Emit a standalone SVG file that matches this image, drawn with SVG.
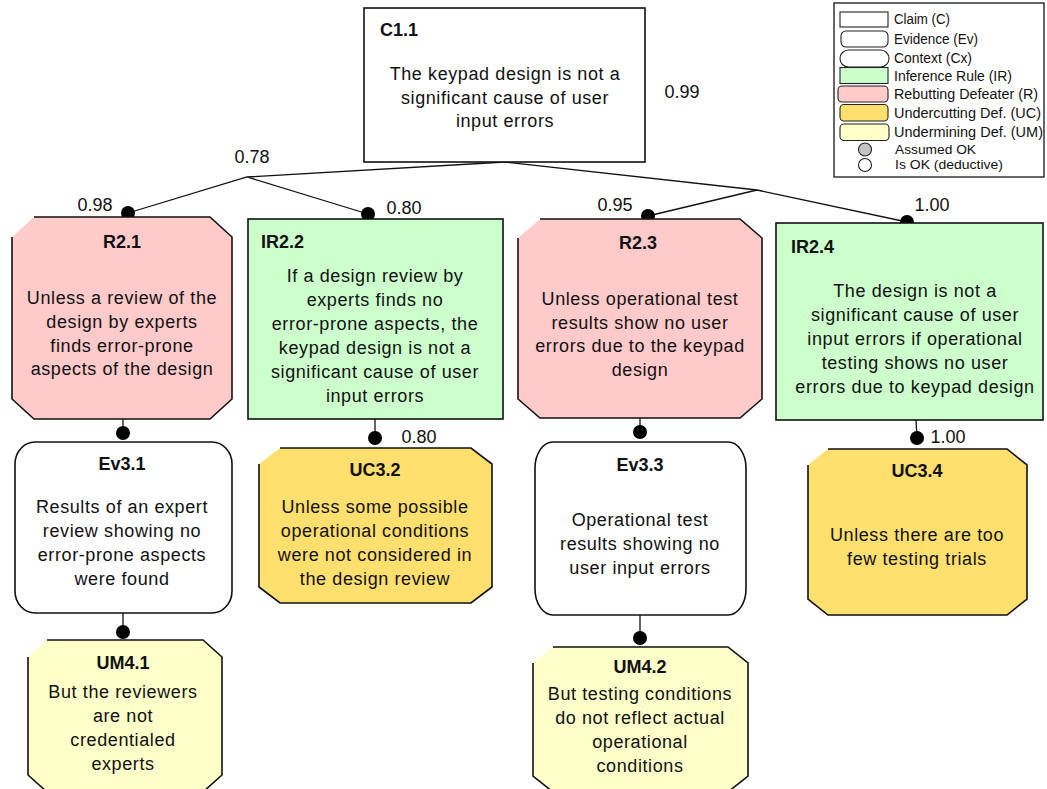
<svg xmlns="http://www.w3.org/2000/svg" width="1047" height="789" viewBox="0 0 1047 789">
<style>
.t{font-family:"Liberation Sans",Arial,sans-serif;font-size:18px;fill:#111;letter-spacing:0.6px;text-anchor:middle}
.h{font-family:"Liberation Sans",Arial,sans-serif;font-size:18px;font-weight:bold;fill:#111;text-anchor:middle}
.hl{text-anchor:start}
.n{font-family:"Liberation Sans",Arial,sans-serif;font-size:18px;fill:#111;text-anchor:middle}
.box{stroke:#111;stroke-width:1.6}
.edge{fill:none;stroke:#111;stroke-width:1.6;stroke-linejoin:miter}
.rf{fill:#FFCACA}
.irf{fill:#CCFFCC}
.ucf{fill:#FFDF6E}
.umf{fill:#FFFFCA}
.ln{fill:none;stroke:#111;stroke-width:1.3}
.dot{fill:#000}
.lg{font-family:"Liberation Sans",Arial,sans-serif;font-size:14px;fill:#111}
.lg2{font-family:"Liberation Sans",Arial,sans-serif;font-size:13px;fill:#111}
.ls{stroke:#222;stroke-width:1.1}
</style>

<g id="legend">
  <rect x="834" y="3" width="210" height="174" fill="#fff" stroke="#333" stroke-width="1.5"/>
  <rect class="ls" x="840" y="12" width="48" height="15" fill="#fff"/>
  <text class="lg" x="894" y="23.5" textLength="56" lengthAdjust="spacingAndGlyphs">Claim (C)</text>
  <rect class="ls" x="841" y="31" width="47" height="16" rx="5" fill="#fff"/>
  <text class="lg" x="894" y="43.5" textLength="84" lengthAdjust="spacingAndGlyphs">Evidence (Ev)</text>
  <rect class="ls" x="840" y="50" width="49" height="17" rx="8.5" fill="#fff"/>
  <text class="lg" x="894" y="63" textLength="78" lengthAdjust="spacingAndGlyphs">Context (Cx)</text>
  <rect class="ls irf" x="840" y="67.5" width="48" height="16"/>
  <text class="lg" x="894" y="80.5" textLength="118" lengthAdjust="spacingAndGlyphs">Inference Rule (IR)</text>
  <rect class="ls rf" x="838" y="86" width="50" height="16" rx="4"/>
  <text class="lg" x="894" y="99" textLength="144" lengthAdjust="spacingAndGlyphs">Rebutting Defeater (R)</text>
  <rect class="ls ucf" x="840" y="104.5" width="48" height="16.5" rx="4"/>
  <text class="lg" x="894" y="118" textLength="147" lengthAdjust="spacingAndGlyphs">Undercutting Def. (UC)</text>
  <rect class="ls umf" x="840" y="124" width="49" height="16.5" rx="4"/>
  <text class="lg" x="894" y="137" textLength="149" lengthAdjust="spacingAndGlyphs">Undermining Def. (UM)</text>
  <circle class="ls" cx="865" cy="149.5" r="6.5" fill="#C4C4C4"/>
  <text class="lg2" x="895" y="153.5" textLength="81" lengthAdjust="spacingAndGlyphs">Assumed OK</text>
  <circle class="ls" cx="865" cy="165" r="6.5" fill="#fff"/>
  <text class="lg2" x="895" y="169" textLength="108" lengthAdjust="spacingAndGlyphs">Is OK (deductive)</text>
</g>

<g id="connectors">
  <path class="ln" d="M505,162 L247,177 L128,213 M247,177 L368,214"/>
  <path class="ln" d="M505,162 L757,190 L648,216 M757,190 L907,222"/>
  <path class="ln" d="M123,419 V433 M123,613 V632 M375,419 V438 M640,418 V432 M640,615 V638 M916,420 L917,438"/>
  <circle class="dot" cx="128" cy="213" r="7"/>
  <circle class="dot" cx="368" cy="214" r="7"/>
  <circle class="dot" cx="648" cy="216" r="7"/>
  <circle class="dot" cx="907" cy="222" r="7"/>
  <circle class="dot" cx="123" cy="433" r="7"/>
  <circle class="dot" cx="123" cy="632" r="7"/>
  <circle class="dot" cx="375" cy="438" r="7"/>
  <circle class="dot" cx="640" cy="432" r="7"/>
  <circle class="dot" cx="640" cy="638" r="7"/>
  <circle class="dot" cx="917" cy="438" r="7"/>
  <text class="n" x="682" y="98">0.99</text>
  <text class="n" x="252" y="163">0.78</text>
  <text class="n" x="95" y="211">0.98</text>
  <text class="n" x="404" y="214">0.80</text>
  <text class="n" x="615" y="211">0.95</text>
  <text class="n" x="932" y="211">1.00</text>
  <text class="n" x="419" y="443">0.80</text>
  <text class="n" x="948" y="443">1.00</text>
</g>

<g id="C1.1">
  <rect class="box" x="364" y="8" width="281" height="154" fill="#fff"/>
  <text class="h hl" x="380" y="36">C1.1</text>
  <text class="t" x="505" y="80">The keypad design is not a</text>
  <text class="t" x="505" y="104">significant cause of user</text>
  <text class="t" x="505" y="127">input errors</text>
</g>

<g id="R2.1">
  <polygon class="rf" points="34,217 210,217 232,237 232,399 210,419 34,419 12,399 12,237"/>
  <polyline class="edge" points="34,217 210,217 232,237 232,399 210,419 34,419 12,399 12,237"/>
  <text class="h" x="122" y="248">R2.1</text>
  <text class="t" x="122" y="304">Unless a review of the</text>
  <text class="t" x="122" y="328">design by experts</text>
  <text class="t" x="122" y="351.5">finds error-prone</text>
  <text class="t" x="122" y="375">aspects of the design</text>
</g>

<g id="IR2.2">
  <rect class="box irf" x="248" y="219" width="255" height="200"/>
  <text class="h hl" x="261" y="248">IR2.2</text>
  <text class="t" x="375" y="282">If a design review by</text>
  <text class="t" x="375" y="306">experts finds no</text>
  <text class="t" x="375" y="330">error-prone aspects, the</text>
  <text class="t" x="375" y="354">keypad design is not a</text>
  <text class="t" x="375" y="378">significant cause of user</text>
  <text class="t" x="375" y="402">input errors</text>
</g>

<g id="R2.3">
  <polygon class="rf" points="540,219 740,219 762,238 762,399 740,418 540,418 518,399 518,238"/>
  <polyline class="edge" points="540,219 740,219 762,238 762,399 740,418 540,418 518,399 518,238"/>
  <text class="h" x="638" y="249">R2.3</text>
  <text class="t" x="640" y="305">Unless operational test</text>
  <text class="t" x="640" y="328.5">results show no user</text>
  <text class="t" x="640" y="352">errors due to the keypad</text>
  <text class="t" x="640" y="376">design</text>
</g>

<g id="IR2.4">
  <rect class="box irf" x="776" y="223" width="267" height="197"/>
  <text class="h hl" x="791" y="253">IR2.4</text>
  <text class="t" x="915" y="297">The design is not a</text>
  <text class="t" x="915" y="321">significant cause of user</text>
  <text class="t" x="915" y="345">input errors if operational</text>
  <text class="t" x="915" y="369">testing shows no user</text>
  <text class="t" x="915" y="393">errors due to keypad design</text>
</g>

<g id="Ev3.1">
  <rect class="box" x="15" y="442" width="217" height="171" rx="20" ry="22" fill="#fff"/>
  <text class="h" x="122" y="470">Ev3.1</text>
  <text class="t" x="122" y="513">Results of an expert</text>
  <text class="t" x="122" y="537">review showing no</text>
  <text class="t" x="122" y="561">error-prone aspects</text>
  <text class="t" x="122" y="585">were found</text>
</g>

<g id="UC3.2">
  <polygon class="ucf" points="280,448 471,448 492,464 492,587 471,603 280,603 259,587 259,464"/>
  <polyline class="edge" points="280,448 471,448 492,464 492,587 471,603 280,603 259,587 259,464"/>
  <text class="h" x="375" y="476">UC3.2</text>
  <text class="t" x="375" y="513">Unless some possible</text>
  <text class="t" x="375" y="537">operational conditions</text>
  <text class="t" x="375" y="561">were not considered in</text>
  <text class="t" x="375" y="585">the design review</text>
</g>

<g id="Ev3.3">
  <rect class="box" x="535" y="442" width="211" height="173" rx="18" ry="26" fill="#fff"/>
  <text class="h" x="640" y="471">Ev3.3</text>
  <text class="t" x="640" y="526">Operational test</text>
  <text class="t" x="640" y="550">results showing no</text>
  <text class="t" x="640" y="574">user input errors</text>
</g>

<g id="UC3.4">
  <polygon class="ucf" points="828,449 1007,449 1027,465 1027,599 1007,615 828,615 808,599 808,465"/>
  <polyline class="edge" points="828,449 1007,449 1027,465 1027,599 1007,615 828,615 808,599 808,465"/>
  <text class="h" x="917" y="477">UC3.4</text>
  <text class="t" x="917" y="541">Unless there are too</text>
  <text class="t" x="917" y="565">few testing trials</text>
</g>

<g id="UM4.1">
  <polygon class="umf" points="47,640 203,640 222,657 222,775 203,792 47,792 28,775 28,657"/>
  <polyline class="edge" points="47,640 203,640 222,657 222,775 203,792 47,792 28,775 28,657"/>
  <text class="h" x="123" y="669">UM4.1</text>
  <text class="t" x="123" y="698">But the reviewers</text>
  <text class="t" x="123" y="722">are not</text>
  <text class="t" x="123" y="746">credentialed</text>
  <text class="t" x="123" y="770">experts</text>
</g>

<g id="UM4.2">
  <polygon class="umf" points="553,647 728,647 748,663 748,776 728,792 553,792 533,776 533,663"/>
  <polyline class="edge" points="553,647 728,647 748,663 748,776 728,792 553,792 533,776 533,663"/>
  <text class="h" x="640" y="673">UM4.2</text>
  <text class="t" x="640" y="700">But testing conditions</text>
  <text class="t" x="640" y="724">do not reflect actual</text>
  <text class="t" x="640" y="748">operational</text>
  <text class="t" x="640" y="772">conditions</text>
</g>
</svg>
